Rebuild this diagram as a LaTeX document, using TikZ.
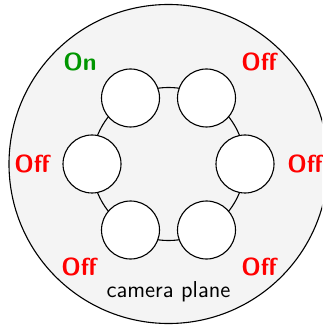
\documentclass[tikz,border=0pt]{standalone}
\usepackage{fontspec}
\definecolor{bggray}{RGB}{244,244,244}
\definecolor{ongreen}{RGB}{0,150,0}
\definecolor{offred}{RGB}{255,0,0}
\begin{document}
\begin{tikzpicture}[x=0.5pt,y=-0.5pt,
  cam/.style={circle,draw=black,line width=0.55pt,fill=white,minimum size=29pt,inner sep=0pt},
  lbl/.style={font=\fontsize{12.3}{14}\selectfont\sffamily\bfseries},
  onlbl/.style={lbl,text=ongreen},
  offlbl/.style={lbl,text=offred}]
\useasboundingbox (0,0) rectangle (322,325);
\clip (0,0) rectangle (322,325);
\coordinate (c) at (168.5,164);
\draw[line width=0.55pt,fill=bggray] (c) circle[radius=159.5];
\draw[line width=0.55pt] (c) circle[radius=76.5];
\node[cam] (k1) at (130.5,98) {};
\node[cam] (k2) at (206.5,98) {};
\node[cam] (k3) at (245,164) {};
\node[cam] (k4) at (206.5,230) {};
\node[cam] (k5) at (130.5,230) {};
\node[cam] (k6) at (92,164) {};
\node[onlbl] (l1) at (80,62) {On};
\node[offlbl] (l2) at (259,62) {Off};
\node[offlbl] (l3) at (305,164) {Off};
\node[offlbl] (l4) at (259,267) {Off};
\node[offlbl] (l5) at (79,267) {Off};
\node[offlbl] (l6) at (32,164) {Off};
\node[font=\fontsize{11.5}{13}\selectfont\sffamily] (t) at (168.5,292) {camera plane};
\end{tikzpicture}
\end{document}
